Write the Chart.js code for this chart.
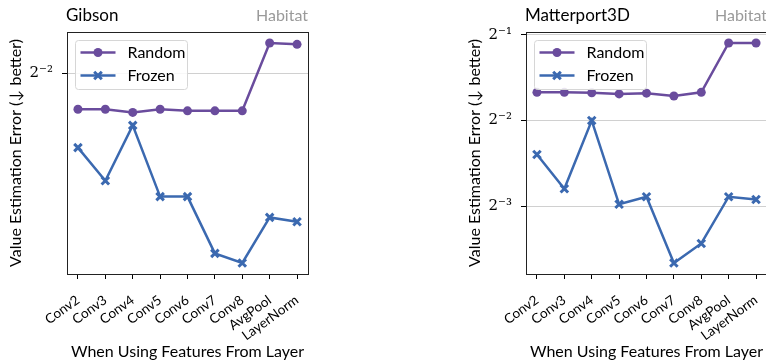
<!DOCTYPE html>
<html>
<head>
<meta charset="utf-8">
<script src="https://cdn.jsdelivr.net/npm/chart.js@4.4.1/dist/chart.umd.min.js"></script>
<style>
  html, body { margin: 0; padding: 0; background: #fff; overflow: hidden; width: 766px; height: 360px; }
  #wrap { position: relative; width: 766px; height: 360px; overflow: hidden; }
  canvas { position: absolute; top: 0; }
  #gibson { left: 0; }
  #mp3d { left: 459px; }
</style>
</head>
<body>
<div id="wrap">
  <canvas id="gibson" width="330" height="360"></canvas>
  <canvas id="mp3d" width="330" height="360"></canvas>
</div>
<script>
// Layers whose features are used
const categories = ['Conv2', 'Conv3', 'Conv4', 'Conv5', 'Conv6', 'Conv7', 'Conv8', 'AvgPool', 'LayerNorm'];

// Value estimation error, Gibson
const gibsonRandom = [0.226, 0.226, 0.224, 0.226, 0.225, 0.225, 0.225, 0.272, 0.271];
const gibsonFrozen = [0.203, 0.185, 0.216, 0.177, 0.177, 0.151, 0.147, 0.167, 0.165];

// Value estimation error, Matterport3D
const mp3dRandom = [0.314, 0.314, 0.313, 0.310, 0.312, 0.305, 0.314, 0.468, 0.468];
const mp3dFrozen = [0.190, 0.144, 0.250, 0.127, 0.135, 0.079, 0.0925, 0.135, 0.132];

// Powers of two shown on the y axes
const gibsonYExponents = [-2];
const mp3dYExponents = [-1, -2, -3];

const seriesNames = ['Random', 'Frozen'];
const panelTitles = ['Gibson', 'Matterport3D'];
const sourceLabel = 'Habitat';
const xTitle = 'When Using Features From Layer';
const yTitle = 'Value Estimation Error (\u2193 better)';

const SANS = 'Lato, "Open Sans", "DejaVu Sans", sans-serif';
const SERIF = '"DejaVu Serif", "Liberation Serif", serif';
const PURPLE = '#6a4c9d';
const BLUE = '#3b69b0';

const SUP = { '-': '\u207B', '0': '\u2070', '1': '\u00B9', '2': '\u00B2', '3': '\u00B3', '4': '\u2074', '5': '\u2075' };
function powLabel(v) {
  const e = String(Math.round(Math.log2(v)));
  return '2' + e.split('').map(c => SUP[c] || c).join('');
}

// Log-space range with a 5% margin on each side
function logRange(vals) {
  const lo = Math.min(...vals), hi = Math.max(...vals);
  const span = Math.log2(hi / lo);
  return { min: lo * Math.pow(2, -0.05 * span), max: hi * Math.pow(2, 0.05 * span) };
}

function drawMarker(ctx, style, x, y, color) {
  ctx.save();
  if (style === 'circle') {
    ctx.fillStyle = color;
    ctx.beginPath();
    ctx.arc(x, y, 4.5, 0, Math.PI * 2);
    ctx.fill();
  } else {
    ctx.strokeStyle = color;
    ctx.lineWidth = 3;
    const d = 3.8;
    ctx.beginPath();
    ctx.moveTo(x - d, y - d); ctx.lineTo(x + d, y + d);
    ctx.moveTo(x + d, y - d); ctx.lineTo(x - d, y + d);
    ctx.stroke();
  }
  ctx.restore();
}

// Title on the left, source label on the right, above the plot frame
const header = {
  id: 'header',
  afterDraw(chart, args, opts) {
    const { ctx, chartArea: a } = chart;
    ctx.save();
    ctx.textBaseline = 'alphabetic';
    ctx.font = '17px ' + SANS;
    ctx.fillStyle = '#000';
    ctx.textAlign = 'left';
    ctx.fillText(opts.title, a.left - 1, 21);
    ctx.font = '16px ' + SANS;
    ctx.fillStyle = '#9a9a9a';
    ctx.textAlign = 'right';
    ctx.fillText(opts.source, a.right, 21);
    ctx.restore();
  }
};

// Closed frame around the plotting area
const frame = {
  id: 'frame',
  afterDatasetsDraw(chart) {
    const { ctx, chartArea: a } = chart;
    ctx.save();
    ctx.strokeStyle = '#222';
    ctx.lineWidth = 1;
    ctx.strokeRect(Math.round(a.left) + 0.5, Math.round(a.top) + 0.5, Math.round(a.right - a.left), Math.round(a.bottom - a.top));
    ctx.restore();
  }
};

// Legend box inside the upper-left corner of the plot
const insetLegend = {
  id: 'insetLegend',
  afterDraw(chart) {
    const { ctx, chartArea: a } = chart;
    const x0 = Math.round(a.left) + 8.5, y0 = Math.round(a.top) + 8.5, w = 112, h = 49, r = 3;
    ctx.save();
    ctx.beginPath();
    ctx.moveTo(x0 + r, y0);
    ctx.arcTo(x0 + w, y0, x0 + w, y0 + h, r);
    ctx.arcTo(x0 + w, y0 + h, x0, y0 + h, r);
    ctx.arcTo(x0, y0 + h, x0, y0, r);
    ctx.arcTo(x0, y0, x0 + w, y0, r);
    ctx.closePath();
    ctx.fillStyle = 'rgba(255,255,255,0.85)';
    ctx.fill();
    ctx.strokeStyle = '#d6d6d6';
    ctx.lineWidth = 1;
    ctx.stroke();
    chart.data.datasets.forEach((ds, i) => {
      const cy = y0 + 12 + i * 23;
      ctx.strokeStyle = ds.borderColor;
      ctx.lineWidth = ds.borderWidth;
      ctx.beginPath();
      ctx.moveTo(x0 + 5, cy);
      ctx.lineTo(x0 + 40, cy);
      ctx.stroke();
      drawMarker(ctx, ds.pointStyle, x0 + 22.5, cy, ds.borderColor);
      ctx.fillStyle = '#000';
      ctx.font = '16px ' + SANS;
      ctx.textAlign = 'left';
      ctx.textBaseline = 'middle';
      ctx.fillText(ds.label, x0 + 52, cy);
    });
    ctx.restore();
  }
};

function makePanel(canvasId, title, randomVals, frozenVals, exps) {
  const range = logRange(randomVals.concat(frozenVals));
  const toPoints = vals => vals.map((v, i) => ({ x: i, y: v }));
  return new Chart(document.getElementById(canvasId), {
    type: 'line',
    data: {
      datasets: [
        {
          label: seriesNames[0], data: toPoints(randomVals),
          borderColor: PURPLE, backgroundColor: PURPLE, borderWidth: 2.5,
          pointStyle: 'circle', pointRadius: 4.5, pointBorderWidth: 0, tension: 0
        },
        {
          label: seriesNames[1], data: toPoints(frozenVals),
          borderColor: BLUE, backgroundColor: BLUE, borderWidth: 2.5,
          pointStyle: 'crossRot', pointRadius: 5.3, pointBorderWidth: 3, tension: 0
        }
      ]
    },
    options: {
      responsive: false,
      animation: false,
      devicePixelRatio: 1,
      layout: { padding: { top: 32, right: 22, left: 0, bottom: 0 } },
      plugins: {
        legend: { display: false },
        tooltip: { enabled: false },
        header: { title: title, source: sourceLabel }
      },
      scales: {
        x: {
          type: 'linear', min: -0.4, max: 8.4,
          afterBuildTicks: s => { s.ticks = categories.map((_, i) => ({ value: i })); },
          afterFit: s => { s.height = 86; },
          ticks: {
            callback: v => categories[v],
            autoSkip: false, minRotation: 36, maxRotation: 36,
            padding: 13, color: '#000', font: { family: SANS, size: 13.5 }
          },
          grid: { drawOnChartArea: false, drawTicks: true, tickLength: 5, tickColor: '#000', tickWidth: 1 },
          border: { display: true, color: '#222', width: 1 },
          title: {
            display: true, text: xTitle, color: '#000',
            font: { family: SANS, size: 16, lineHeight: 1 }, padding: { top: 0, bottom: 0 }
          }
        },
        y: {
          type: 'logarithmic', min: range.min, max: range.max, bounds: 'data',
          afterBuildTicks: s => { s.ticks = exps.map(e => ({ value: Math.pow(2, e) })); },
          afterFit: s => { s.width = 67; },
          ticks: {
            callback: v => powLabel(v),
            autoSkip: false, padding: 9, color: '#000', font: { family: SERIF, size: 15 }
          },
          grid: { color: '#d0d0d0', lineWidth: 1, drawTicks: true, tickLength: 5, tickColor: '#000', tickWidth: 1 },
          border: { display: true, color: '#222', width: 1 },
          title: {
            display: true, text: yTitle, color: '#000',
            font: { family: SANS, size: 16, lineHeight: 1 }, padding: { top: 8, bottom: 0 }
          }
        }
      }
    },
    plugins: [header, frame, insetLegend]
  });
}

makePanel('gibson', panelTitles[0], gibsonRandom, gibsonFrozen, gibsonYExponents);
makePanel('mp3d', panelTitles[1], mp3dRandom, mp3dFrozen, mp3dYExponents);
</script>
</body>
</html>
